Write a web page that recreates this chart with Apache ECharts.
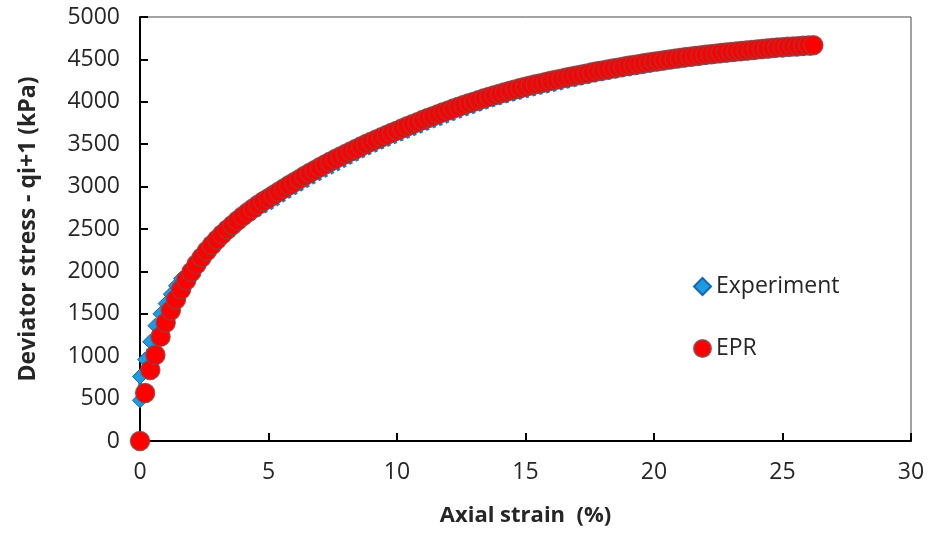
<!DOCTYPE html>
<html>
<head>
<meta charset="utf-8">
<title>Deviator stress vs axial strain</title>
<script src="https://cdn.jsdelivr.net/npm/echarts@6/dist/echarts.min.js"></script>
<style>
  html, body { margin: 0; padding: 0; background: #fff; }
  #main { width: 933px; height: 533px; }
</style>
</head>
<body>
<div id="main"></div>
<script>
// axial strain (%) of the EPR points
const strain = [
  0, 0.2, 0.4, 0.6, 0.8, 1.0, 1.2, 1.4, 1.6, 1.8,
  2.0, 2.2, 2.4, 2.6, 2.8, 3.0, 3.2, 3.4, 3.6, 3.8,
  4.0, 4.2, 4.4, 4.6, 4.8, 5.0, 5.2, 5.4, 5.6, 5.8,
  6.0, 6.2, 6.4, 6.6, 6.8, 7.0, 7.2, 7.4, 7.6, 7.8,
  8.0, 8.2, 8.4, 8.6, 8.8, 9.0, 9.2, 9.4, 9.6, 9.8,
  10.0, 10.2, 10.4, 10.6, 10.8, 11.0, 11.2, 11.4, 11.6, 11.8,
  12.0, 12.2, 12.4, 12.6, 12.8, 13.0, 13.2, 13.4, 13.6, 13.8,
  14.0, 14.2, 14.4, 14.6, 14.8, 15.0, 15.2, 15.4, 15.6, 15.8,
  16.0, 16.2, 16.4, 16.6, 16.8, 17.0, 17.2, 17.4, 17.6, 17.8,
  18.0, 18.2, 18.4, 18.6, 18.8, 19.0, 19.2, 19.4, 19.6, 19.8,
  20.0, 20.2, 20.4, 20.6, 20.8, 21.0, 21.2, 21.4, 21.6, 21.8,
  22.0, 22.2, 22.4, 22.6, 22.8, 23.0, 23.2, 23.4, 23.6, 23.8,
  24.0, 24.2, 24.4, 24.6, 24.8, 25.0, 25.2, 25.4, 25.6, 25.8,
  26.0, 26.2
];

// EPR prediction (kPa)
const eprStress = [
  0, 566, 837, 1014, 1230, 1395, 1540, 1670, 1787, 1895,
  1993, 2083, 2165, 2241, 2311, 2376, 2437, 2494, 2548, 2600,
  2650, 2697, 2742, 2785, 2826, 2862, 2900, 2939, 2977, 3015,
  3052, 3088, 3124, 3159, 3193, 3227, 3260, 3292, 3324, 3355,
  3385, 3415, 3444, 3473, 3501, 3529, 3556, 3583, 3609, 3635,
  3660, 3686, 3711, 3736, 3760, 3784, 3808, 3831, 3854, 3876,
  3898, 3920, 3941, 3962, 3982, 4002, 4022, 4041, 4060, 4078,
  4096, 4113, 4130, 4146, 4162, 4177, 4192, 4206, 4220, 4234,
  4247, 4260, 4273, 4286, 4299, 4311, 4323, 4335, 4347, 4359,
  4370, 4381, 4392, 4403, 4414, 4424, 4434, 4444, 4454, 4464,
  4473, 4482, 4491, 4500, 4508, 4516, 4524, 4532, 4540, 4547,
  4554, 4561, 4568, 4575, 4582, 4588, 4594, 4600, 4606, 4612,
  4618, 4624, 4629, 4634, 4639, 4644, 4648, 4652, 4656, 4660,
  4664, 4668
];

// experiment starts with an extra reading at zero strain
const expStrain = [0].concat(strain);
const expStress = [
  480,
  760, 960, 1170, 1360, 1500, 1620, 1730, 1830, 1915, 1995,
  2070, 2140, 2200, 2255, 2305, 2350, 2392, 2431, 2468, 2507,
  2545, 2584, 2622, 2660, 2696, 2728, 2765, 2804, 2842, 2880,
  2917, 2953, 2989, 3024, 3058, 3092, 3125, 3157, 3189, 3220,
  3252, 3284, 3315, 3346, 3375, 3404, 3431, 3458, 3484, 3510,
  3535, 3561, 3586, 3611, 3635, 3659, 3683, 3706, 3729, 3751,
  3774, 3797, 3819, 3841, 3862, 3883, 3904, 3924, 3944, 3963,
  3981, 3998, 4015, 4031, 4047, 4062, 4077, 4091, 4105, 4119,
  4132, 4146, 4160, 4174, 4188, 4201, 4214, 4227, 4240, 4253,
  4265, 4276, 4287, 4298, 4309, 4319, 4329, 4339, 4350, 4361,
  4371, 4381, 4391, 4400, 4408, 4416, 4424, 4432, 4440, 4447,
  4454, 4461, 4468, 4475, 4482, 4488, 4494, 4500, 4506, 4512,
  4518, 4524, 4529, 4534, 4539, 4544, 4548, 4552, 4556, 4560,
  4564, 4568
];

const xTicks = [0, 5, 10, 15, 20, 25, 30];
const yTicks = [0, 500, 1000, 1500, 2000, 2500, 3000, 3500, 4000, 4500, 5000];

const FONT = 'Open Sans';
const TEXT = '#262626';

// diamonds only show where they stick out of the EPR band
const expData = expStrain.map(function (x, i) {
  if (x <= 1.6) return [x, expStress[i]];
  return { value: [x, expStress[i]], symbol: 'none' };
});
const eprData = strain.map(function (x, i) { return [x, eprStress[i]]; });

const myChart = echarts.init(document.getElementById('main'));

const option = {
  backgroundColor: '#fff',
  animation: false,
  grid: {
    left: 140, right: 22, top: 17, bottom: 92,
    show: true, borderColor: '#444', borderWidth: 1
  },
  legend: {
    orient: 'vertical',
    left: 688, top: 270,
    itemWidth: 17, itemHeight: 17,
    itemGap: 39,
    textStyle: { fontFamily: FONT, fontSize: 23, color: TEXT },
    data: [
      { name: 'Experiment', icon: 'diamond' },
      { name: 'EPR', icon: 'circle' }
    ]
  },
  xAxis: {
    type: 'value',
    min: xTicks[0], max: xTicks[xTicks.length - 1], interval: 5,
    name: 'Axial strain  (%)',
    nameLocation: 'middle', nameGap: 64,
    nameTextStyle: { fontFamily: FONT, fontSize: 22, fontWeight: 'bold', color: TEXT },
    axisLine: { lineStyle: { color: '#000', width: 2 } },
    axisTick: { inside: true, length: 8, lineStyle: { color: '#000', width: 2 } },
    axisLabel: { fontFamily: FONT, fontSize: 23, color: TEXT, margin: 20 },
    splitLine: { show: false }
  },
  yAxis: {
    type: 'value',
    min: yTicks[0], max: yTicks[yTicks.length - 1], interval: 500,
    name: 'Deviator stress - qi+1 (kPa)',
    nameLocation: 'middle', nameGap: 100,
    nameTextStyle: { fontFamily: FONT, fontSize: 23, fontWeight: 'bold', color: TEXT },
    axisLine: { lineStyle: { color: '#000', width: 2 } },
    axisTick: { inside: true, length: 8, lineStyle: { color: '#000', width: 2 } },
    axisLabel: {
      fontFamily: FONT, fontSize: 23, color: TEXT, margin: 20,
      formatter: function (v) { return String(v); }
    },
    splitLine: { show: false }
  },
  series: [
    {
      name: 'Experiment',
      type: 'line',
      data: expData,
      symbol: 'diamond',
      symbolSize: 15,
      clip: false,
      itemStyle: { color: '#1a9be2', borderColor: '#1565b0', borderWidth: 1 },
      lineStyle: { color: '#1a7fd0', width: 3.5, type: 'dotted' },
      z: 2
    },
    {
      name: 'EPR',
      type: 'scatter',
      data: eprData,
      symbol: 'circle',
      symbolSize: 19,
      clip: false,
      itemStyle: { color: '#ff0000', borderColor: 'rgba(150,60,60,0.85)', borderWidth: 1.5, opacity: 1 },
      z: 3
    }
  ]
};

myChart.setOption(option);
</script>
</body>
</html>
